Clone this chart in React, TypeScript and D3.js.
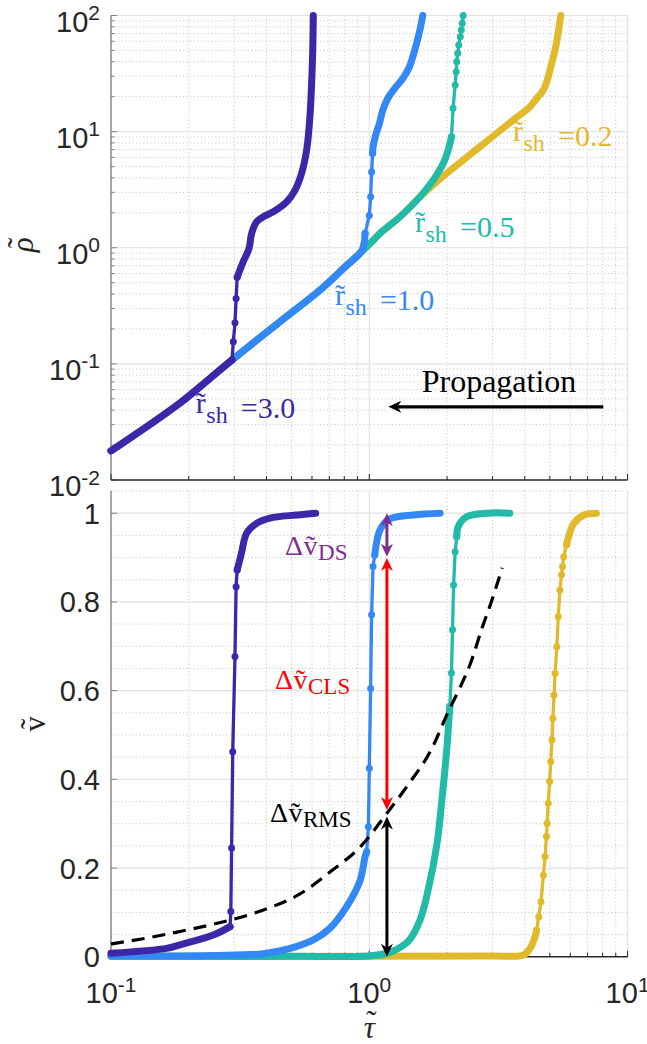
import React from 'react';
import * as d3 from 'd3';

type Pt = [number, number];

// ---------- axis ticks ----------
const tauDecades = [0.1, 1, 10];
const tauDecadeExponents = ['-1', '0', '1'];
const rhoDecades = [0.01, 0.1, 1, 10, 100];
const rhoDecadeExponents = ['-2', '-1', '0', '1', '2'];
const vTicks = [0, 0.2, 0.4, 0.6, 0.8, 1];
const vTickLabels = ['0', '0.2', '0.4', '0.6', '0.8', '1'];

// shock radii, one curve each (drawing order: last on top)
const shockRadii = ['0.2', '0.5', '1.0', '3.0'];

// ---------- density  rho(tau) ----------
// "Low"/"High": stretches where samples pile up into a solid band
// "Jump"/"Top": isolated samples across the fast rise
const rhoR30Low: Pt[] = [[0.1, 0.0178], [0.185, 0.046], [0.24, 0.0743], [0.294, 0.108]];
const rhoR30Jump: Pt[] = [[0.294, 0.108], [0.2975, 0.155], [0.302, 0.226], [0.305, 0.366], [0.308, 0.556]];
const rhoR30High: Pt[] = [
  [0.308, 0.556], [0.325, 0.76], [0.342, 0.98], [0.3505, 1.33], [0.366, 1.67], [0.389, 1.85],
  [0.425, 2.04], [0.479, 2.49], [0.516, 3.14], [0.547, 4.38], [0.572, 6.94], [0.589, 13.4],
  [0.598, 26.1], [0.604, 50], [0.607, 100],
];

const rhoR10Low: Pt[] = [
  [0.1, 0.0178], [0.185, 0.046], [0.294, 0.108], [0.451, 0.231], [0.644, 0.432],
  [0.8, 0.674], [0.93, 0.92], [0.955, 1.1], [0.963, 1.33],
];
const rhoR10Jump: Pt[] = [[0.963, 1.33], [1.0, 1.9], [1.012, 2.75], [1.021, 4.5], [1.03, 6.5]];
const rhoR10High: Pt[] = [
  [1.03, 6.5], [1.034, 7.4], [1.064, 9.7], [1.095, 11.8], [1.128, 15.3], [1.18, 19.4],
  [1.255, 23.6], [1.35, 28.8], [1.43, 36.2], [1.5, 50.5], [1.57, 75], [1.61, 100],
];

const rhoR05Low: Pt[] = [
  [0.1, 0.0178], [0.185, 0.046], [0.294, 0.108], [0.451, 0.231], [0.644, 0.432],
  [0.8, 0.674], [0.93, 0.92], [1.0, 1.07], [1.1, 1.33], [1.315, 1.85], [1.572, 2.75],
  [1.77, 3.83], [1.934, 5.33], [2.02, 6.94], [2.08, 9.04],
];
const rhoR05Top: Pt[] = [
  [2.08, 9.04], [2.11, 15.9], [2.15, 25.2], [2.17, 32.8], [2.18, 40], [2.2, 47.3],
  [2.22, 55.7], [2.25, 65.7], [2.27, 75], [2.29, 85.7], [2.31, 100],
];

const rhoR02Low: Pt[] = [
  [0.1, 0.0178], [0.185, 0.046], [0.294, 0.108], [0.451, 0.231], [0.644, 0.432],
  [0.8, 0.674], [0.93, 0.92], [1.0, 1.07], [1.1, 1.33], [1.315, 1.85], [1.572, 2.75],
  [1.994, 4.37], [2.68, 7.41], [3.61, 12.6], [4.19, 16.4], [4.45, 19.4], [4.72, 22.8],
  [4.93, 29.7], [5.08, 38.7], [5.24, 50.5], [5.43, 80], [5.51, 100],
];

// ---------- velocity  v(tau) ----------
const vR30Low: Pt[] = [[0.1, 0.008], [0.164, 0.019], [0.185, 0.027], [0.249, 0.049], [0.289, 0.068]];
const vR30Jump: Pt[] = [
  [0.289, 0.068], [0.291, 0.102], [0.293, 0.245], [0.296, 0.462], [0.302, 0.677],
  [0.305, 0.834], [0.308, 0.872],
];
const vR30High: Pt[] = [
  [0.308, 0.872], [0.32, 0.91], [0.335, 0.955], [0.366, 0.977], [0.412, 0.989],
  [0.524, 0.996], [0.62, 1.0],
];

const vR10Low: Pt[] = [
  [0.1, 0.002], [0.25, 0.003], [0.388, 0.007], [0.494, 0.019], [0.607, 0.038], [0.703, 0.064],
  [0.817, 0.113], [0.922, 0.173], [0.963, 0.226], [0.977, 0.237],
];
const vR10Jump: Pt[] = [
  [0.977, 0.237], [0.992, 0.293], [1.0, 0.425], [1.012, 0.605], [1.021, 0.771],
  [1.034, 0.88], [1.05, 0.906],
];
const vR10High: Pt[] = [[1.05, 0.906], [1.1, 0.962], [1.19, 0.986], [1.48, 0.996], [1.88, 1.0]];

const vR05Low: Pt[] = [
  [0.1, 0.001], [0.5, 0.001], [1.0, 0.002], [1.17, 0.008], [1.28, 0.017], [1.43, 0.038],
  [1.572, 0.083], [1.69, 0.151], [1.83, 0.256], [1.91, 0.354], [1.994, 0.466], [2.05, 0.564],
];
const vR05Jump: Pt[] = [[2.05, 0.564], [2.08, 0.64], [2.1, 0.737], [2.12, 0.838], [2.15, 0.913], [2.18, 0.947]];
const vR05High: Pt[] = [[2.18, 0.947], [2.21, 0.97], [2.38, 0.992], [2.85, 1.0], [3.5, 1.0]];

const vR02Low: Pt[] = [
  [0.1, 0.001], [1.0, 0.001], [3.0, 0.002], [3.95, 0.004], [4.19, 0.019], [4.38, 0.045], [4.44, 0.06],
];
const vR02Jump: Pt[] = [
  [4.44, 0.06], [4.53, 0.09], [4.62, 0.124], [4.72, 0.184], [4.79, 0.226], [4.85, 0.271],
  [4.88, 0.301], [4.93, 0.346], [4.99, 0.395], [5.04, 0.44], [5.1, 0.489], [5.14, 0.538],
  [5.19, 0.59], [5.24, 0.639], [5.32, 0.699], [5.39, 0.767], [5.47, 0.827], [5.55, 0.861],
  [5.6, 0.88], [5.66, 0.902], [5.8, 0.929],
];
const vR02High: Pt[] = [[5.8, 0.929], [6.19, 0.977], [6.78, 0.996], [7.57, 1.0]];

// RMS velocity profile (dashed)
const vRms: Pt[] = [
  [0.1, 0.029], [0.1416, 0.0435], [0.185, 0.0571], [0.2417, 0.0717], [0.3158, 0.0886],
  [0.4127, 0.111], [0.539, 0.1416], [0.704, 0.191], [0.922, 0.2476], [1.17, 0.3236],
  [1.43, 0.392], [1.72, 0.462], [2.05, 0.56], [2.24, 0.606], [2.46, 0.66], [2.75, 0.746],
  [2.94, 0.793], [3.27, 0.877],
];

// velocity differences marked at one instant
const deltaTau = 1.17;
const deltaDS: Pt = [0.902, 1.0];
const deltaCLS: Pt = [0.331, 0.899];
const deltaRMS: Pt = [0.0, 0.316];

const PURPLE = '#3E26A8';
const BLUE = '#3388F6';
const TEAL = '#22BBA8';
const YELLOW = '#E1BA2C';
const seriesColor: Record<string, string> = { '3.0': PURPLE, '1.0': BLUE, '0.5': TEAL, '0.2': YELLOW };

const rhoDense: Record<string, Pt[][]> = {
  '3.0': [rhoR30Low, rhoR30High], '1.0': [rhoR10Low, rhoR10High], '0.5': [rhoR05Low], '0.2': [rhoR02Low],
};
const rhoSparse: Record<string, Pt[][]> = {
  '3.0': [rhoR30Jump], '1.0': [rhoR10Jump], '0.5': [rhoR05Top], '0.2': [],
};
const vDense: Record<string, Pt[][]> = {
  '3.0': [vR30Low, vR30High], '1.0': [vR10Low, vR10High], '0.5': [vR05Low, vR05High], '0.2': [vR02Low, vR02High],
};
const vSparse: Record<string, Pt[][]> = {
  '3.0': [vR30Jump], '1.0': [vR10Jump], '0.5': [vR05Jump], '0.2': [vR02Jump],
};

const SANS = "'Liberation Sans', Arial, Helvetica, sans-serif";
const SERIF = "'Liberation Serif', 'Times New Roman', serif";
const TICK_TEXT = '#262626';
const AXIS_GRAY = '#808080';
const GRID_MAJOR = '#e2e2e2';
const GRID_MINOR = '#c2c2c2';

const W = 647;
const H = 1044;

function isDecade(v: number) {
  const l = Math.log10(v);
  return Math.abs(l - Math.round(l)) < 1e-9;
}

function ArrowHead({ x, y, angle, color }: { x: number; y: number; angle: number; color: string }) {
  const L = 13;
  const Wd = 6;
  return (
    <path
      d={`M0,0 L${-L},${-Wd} L${-0.7 * L},0 L${-L},${Wd} Z`}
      transform={`translate(${x},${y}) rotate(${angle})`}
      fill={color}
    />
  );
}

function DoubleArrow({ x, yTop, yBottom, color }: { x: number; yTop: number; yBottom: number; color: string }) {
  return (
    <g>
      <line x1={x} x2={x} y1={yTop + 8} y2={yBottom - 8} stroke={color} strokeWidth={3} />
      <ArrowHead x={x} y={yTop} angle={-90} color={color} />
      <ArrowHead x={x} y={yBottom} angle={90} color={color} />
    </g>
  );
}

function RLabel({ px, py, color, value }: { px: number; py: number; color: string; value: string }) {
  return (
    <g fill={color} fontFamily={SERIF}>
      <text x={px} y={py - 5} fontSize={30}>r</text>
      <text x={px + 5} y={py - 5} fontSize={30} textAnchor="middle">˜</text>
      <text x={px + 10.5} y={py + 5} fontSize={24}>sh</text>
      <text x={px + 45} y={py} fontSize={30}>={value}</text>
    </g>
  );
}

function DeltaLabel({ px, py, color, sub }: { px: number; py: number; color: string; sub: string }) {
  return (
    <g fill={color} fontFamily={SERIF}>
      <text x={px} y={py} fontSize={28}>Δ</text>
      <text x={px + 18.5} y={py} fontSize={28}>v</text>
      <text x={px + 25.5} y={py} fontSize={28} textAnchor="middle">˜</text>
      <text x={px + 33} y={py + 5} fontSize={23}>{sub}</text>
    </g>
  );
}

export default function App() {
  const x = d3.scaleLog().domain([0.1, 10]).range([111, 627.6]);
  const yRho = d3.scaleLog().domain([0.01, 100]).range([480, 15.5]);
  const yV = d3.scaleLinear().domain([0, 1.05]).range([956.8, 491]);

  const [xL, xR] = x.range();
  const [rhoB, rhoT] = yRho.range();
  const [vB, vT] = yV.range();

  const tauAll = x.ticks();
  const tauMajor = tauAll.filter((t) => isDecade(t) && t > 0.1);
  const tauMinor = tauAll.filter((t) => !isDecade(t));
  const rhoAll = yRho.ticks();
  const rhoMajor = rhoAll.filter((t) => isDecade(t) && t > 0.01);
  const rhoMinor = rhoAll.filter((t) => !isDecade(t));
  const vMinor = d3.range(1, 22).map((i) => i * 0.05).filter((_, i) => (i + 1) % 4 !== 0);
  const vMajor = vTicks.filter((t) => t > 0);

  const bandLine = (ys: (v: number) => number) =>
    d3.line<Pt>().x((d) => x(d[0])).y((d) => ys(d[1])).curve(d3.curveCatmullRom.alpha(0.5));
  const thinLine = (ys: (v: number) => number) =>
    d3.line<Pt>().x((d) => x(d[0])).y((d) => ys(d[1]));

  const renderSeries = (
    dense: Record<string, Pt[][]>,
    sparse: Record<string, Pt[][]>,
    ys: (v: number) => number,
  ) =>
    shockRadii.map((r) => {
      const c = seriesColor[r];
      return (
        <g key={r}>
          {dense[r].map((pts, i) => (
            <path key={'d' + i} d={bandLine(ys)(pts) || ''} fill="none" stroke={c} strokeWidth={7}
              strokeLinecap="round" strokeLinejoin="round" />
          ))}
          {sparse[r].map((pts, i) => (
            <g key={'s' + i}>
              <path d={thinLine(ys)(pts) || ''} fill="none" stroke={c} strokeWidth={3.3} strokeLinejoin="round" />
              {pts.map((p, j) => (
                <circle key={j} cx={x(p[0])} cy={ys(p[1])} r={3.5} fill={c} />
              ))}
            </g>
          ))}
        </g>
      );
    });

  const grid = (yTop: number, yBottom: number, hMajor: number[], hMinor: number[], ys: (v: number) => number) => (
    <g>
      {tauMinor.map((t) => (
        <line key={'vx' + t} x1={x(t)} x2={x(t)} y1={yTop} y2={yBottom} stroke={GRID_MINOR}
          strokeWidth={1} strokeDasharray="1 2.6" />
      ))}
      {hMinor.map((v) => (
        <line key={'hy' + v} x1={xL} x2={xR} y1={ys(v)} y2={ys(v)} stroke={GRID_MINOR}
          strokeWidth={1} strokeDasharray="1 2.6" />
      ))}
      {tauMajor.map((t) => (
        <line key={'VX' + t} x1={x(t)} x2={x(t)} y1={yTop} y2={yBottom} stroke={GRID_MAJOR} strokeWidth={1.2} />
      ))}
      {hMajor.map((v) => (
        <line key={'HY' + v} x1={xL} x2={xR} y1={ys(v)} y2={ys(v)} stroke={GRID_MAJOR} strokeWidth={1.2} />
      ))}
    </g>
  );

  const xAxisTicks = (yAxis: number) => (
    <g stroke={TICK_TEXT} strokeWidth={1}>
      <line x1={xL} x2={xR} y1={yAxis} y2={yAxis} strokeWidth={1.4} />
      {tauAll.map((t) => (
        <line key={t} x1={x(t)} x2={x(t)} y1={yAxis} y2={yAxis - (isDecade(t) ? 6 : 4)} />
      ))}
    </g>
  );

  const arrowX = x(deltaTau);

  return (
    <svg width={W} height={H} viewBox={`0 0 ${W} ${H}`}
      style={{ position: 'absolute', left: 0, top: 0, background: '#fff' }}>
      <rect x={0} y={0} width={W} height={H} fill="#fff" />

      {/* ===== top panel: density ===== */}
      {grid(rhoT, rhoB, rhoMajor, rhoMinor, yRho)}
      <g>
        <line x1={xL} x2={xL} y1={rhoT} y2={rhoB} stroke={AXIS_GRAY} strokeWidth={1.4} />
        {rhoAll.map((v) => (
          <line key={v} x1={xL} x2={xL + (isDecade(v) ? 6 : 3.5)} y1={yRho(v)} y2={yRho(v)}
            stroke={AXIS_GRAY} strokeWidth={1} />
        ))}
      </g>
      {xAxisTicks(rhoB)}
      {rhoDecades.map((v, i) => (
        <text key={v} x={100} y={yRho(v) + 16} textAnchor="end" fontFamily={SANS} fontSize={29} fill={TICK_TEXT}>
          10<tspan dy={-11.5} fontSize={21}>{rhoDecadeExponents[i]}</tspan>
        </text>
      ))}
      <g transform={`translate(33,${(rhoT + rhoB) / 2 - 3}) rotate(-90)`} fontFamily={SERIF} fill={TICK_TEXT}>
        <text x={0} y={0} textAnchor="middle" fontSize={31} fontStyle="italic">ρ</text>
        <text x={2} y={-4} textAnchor="middle" fontSize={31}>˜</text>
      </g>

      {renderSeries(rhoDense, rhoSparse, yRho)}

      <RLabel px={x(0.213)} py={yRho(0.0341)} color={PURPLE} value="3.0" />
      <RLabel px={x(0.736)} py={yRho(0.2906)} color={BLUE} value="1.0" />
      <RLabel px={x(1.503)} py={yRho(1.236)} color={TEAL} value="0.5" />
      <RLabel px={x(3.6)} py={yRho(7.52)} color={YELLOW} value="0.2" />

      <text x={x(1.595)} y={yRho(0.0575)} fontFamily={SERIF} fontSize={32} fill="#000">Propagation</text>
      <line x1={x(8.05)} x2={x(1.185) + 9} y1={yRho(0.0427)} y2={yRho(0.0427)} stroke="#000" strokeWidth={3.2} />
      <ArrowHead x={x(1.185)} y={yRho(0.0427)} angle={180} color="#000" />

      {/* ===== bottom panel: velocity ===== */}
      {grid(vT, vB, vMajor, vMinor, yV)}
      <g>
        <line x1={xL} x2={xL} y1={vT} y2={vB} stroke={AXIS_GRAY} strokeWidth={1.4} />
        {vTicks.map((v) => (
          <line key={v} x1={xL} x2={xL + 6} y1={yV(v)} y2={yV(v)} stroke={AXIS_GRAY} strokeWidth={1} />
        ))}
      </g>
      {xAxisTicks(vB)}
      {vTicks.map((v, i) => (
        <text key={v} x={100} y={yV(v) + 10.5} textAnchor="end" fontFamily={SANS} fontSize={29} fill={TICK_TEXT}>
          {vTickLabels[i]}
        </text>
      ))}
      {tauDecades.map((t, i) => (
        <text key={t} x={x(t)} y={1003} textAnchor="middle" fontFamily={SANS} fontSize={29} fill={TICK_TEXT}>
          10<tspan dy={-11.5} fontSize={21}>{tauDecadeExponents[i]}</tspan>
        </text>
      ))}
      <g transform={`translate(45,${(vT + vB) / 2}) rotate(-90)`} fontFamily={SERIF} fill={TICK_TEXT}>
        <text x={0} y={0} textAnchor="middle" fontSize={31}>v</text>
        <text x={0} y={-3} textAnchor="middle" fontSize={31}>˜</text>
      </g>
      <g fontFamily={SERIF} fill={TICK_TEXT}>
        <text x={x(1)} y={1038} textAnchor="middle" fontSize={31} fontStyle="italic">τ</text>
        <text x={x(1) + 2} y={1032} textAnchor="middle" fontSize={31}>˜</text>
      </g>

      {renderSeries(vDense, vSparse, yV)}

      <path
        d={d3.line<Pt>().x((d) => x(d[0])).y((d) => yV(d[1])).curve(d3.curveMonotoneX)(vRms) || ''}
        fill="none" stroke="#000" strokeWidth={3.2} strokeDasharray="13 8"
      />

      <DoubleArrow x={arrowX} yTop={yV(deltaDS[1])} yBottom={yV(deltaDS[0])} color="#7E2F8E" />
      <DoubleArrow x={arrowX} yTop={yV(deltaCLS[1])} yBottom={yV(deltaCLS[0])} color="#FF0000" />
      <DoubleArrow x={arrowX} yTop={yV(deltaRMS[1])} yBottom={yV(deltaRMS[0])} color="#000" />

      <DeltaLabel px={x(0.472)} py={yV(0.906)} color="#7E2F8E" sub="DS" />
      <DeltaLabel px={x(0.4315)} py={yV(0.604)} color="#FF0000" sub="CLS" />
      <DeltaLabel px={x(0.4127)} py={yV(0.304)} color="#000" sub="RMS" />
    </svg>
  );
}
